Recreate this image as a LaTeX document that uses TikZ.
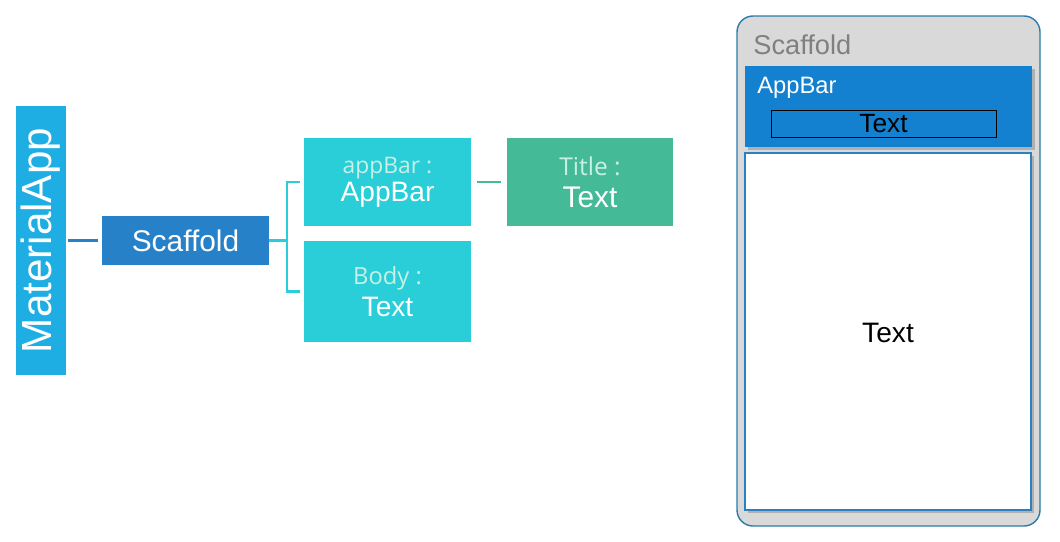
\documentclass[tikz,border=0pt]{standalone}
\usepackage{fontspec}
\setmainfont{Liberation Sans}
\newfontfamily\labfont{Open Sans}
\usetikzlibrary{shadows}

\definecolor{appblue}{HTML}{1EAEE3}
\definecolor{scafblue}{HTML}{2681C8}
\definecolor{boxcyan}{HTML}{29CED8}
\definecolor{boxgreen}{HTML}{44BA96}
\definecolor{labmint}{HTML}{C8F0E6}
\definecolor{panelgray}{HTML}{D9D9D9}
\definecolor{panelline}{HTML}{2A7BAA}
\definecolor{barblue}{HTML}{1380D0}
\definecolor{bodyline}{HTML}{2A80C2}

\tikzset{
  treebox/.style={inner sep=0pt, text=white, align=center},
  treeline/.style={line width=1.2pt},
  fsize/.style={font=\fontsize{#1}{#1}\selectfont},
  shade box/.style={drop shadow={opacity=0.45, shadow xshift=0.05cm, shadow yshift=-0.06cm}}
}

\begin{document}
\begin{tikzpicture}[x=0.02cm, y=-0.02cm]

  \useasboundingbox (0,0) rectangle (1060,541);

  % The root MaterialApp
  \node[treebox, fill=appblue, rotate=90, minimum width=5.38cm, minimum height=1cm, fsize=24] (app) at (41,240.5) {MaterialApp};

  % The Scaffold
  \node[treebox, fill=scafblue, minimum width=3.34cm, minimum height=0.98cm, fsize=17] (scaf) at (185.5,240.5) {Scaffold};
  \draw[scafblue, treeline] (app.south) ++(2,0) -- ([xshift=-2]scaf.west);

  % The properties appBar and body
  \node[treebox, fill=boxcyan, minimum width=3.34cm, minimum height=1.76cm] (appbar) at (387.5,182)
    {{\labfont\fontsize{13}{13}\selectfont\color{labmint} appBar :}\\[1pt]{\fontsize{16}{16}\selectfont AppBar}};
  \node[treebox, fill=boxcyan, minimum width=3.34cm, minimum height=2.02cm] (body) at (387.5,291.5)
    {{\labfont\fontsize{13.5}{13.5}\selectfont\color{labmint} Body :}\\[3pt]{\fontsize{16}{16}\selectfont Text}};
  \coordinate (fork) at (287,240.5);
  \draw[boxcyan, treeline] (scaf.east) -- (fork);
  \draw[boxcyan, treeline] (fork) |- ([xshift=-2]appbar.west);
  \draw[boxcyan, treeline] (fork) |- ([xshift=-2]body.west);

  % The title of the AppBar
  \node[treebox, fill=boxgreen, minimum width=3.32cm, minimum height=1.78cm] (title) at (590,182)
    {{\labfont\fontsize{14}{14}\selectfont\color{labmint} Title :}\\[6pt]{\fontsize{17}{17}\selectfont Text}};
  \draw[boxgreen, treeline] ([xshift=3]appbar.east) -- ([xshift=-3]title.west |- appbar.east);

  % The screen of the Scaffold
  \draw[panelline, thick, fill=panelgray, rounded corners=0.32cm] (737,16) rectangle (1040,526);
  \node[anchor=base west, text=gray, fsize=15.5, inner sep=0pt] (scaftitle) at (753,54) {Scaffold};

  % The AppBar with its title
  \fill[barblue, shade box] (745,66) rectangle (1032,147);
  \node[anchor=west, text=white, fsize=13.5, inner sep=0pt] (barlabel) at (757,88) {AppBar};
  \node[draw=black, fill=barblue, minimum width=4.5cm, minimum height=0.54cm, inner sep=0pt, fsize=15] (bartext) at (883.5,123.5) {Text};

  % The body with its text
  \draw[bodyline, line width=1.2pt, fill=white, shade box] (745,153) rectangle (1031,510);
  \node[fsize=16, inner sep=0pt] (bodytext) at (888,333) {Text};

\end{tikzpicture}
\end{document}
